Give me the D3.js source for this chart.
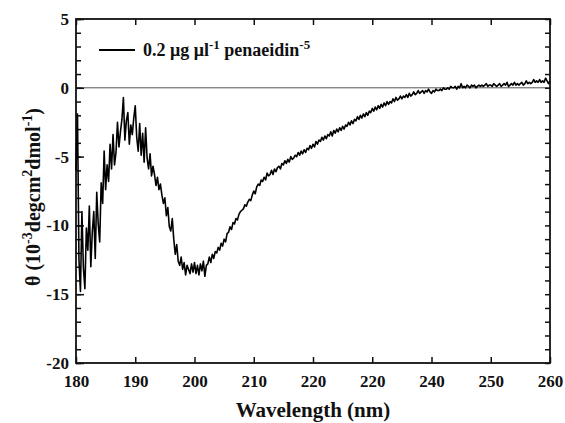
<!DOCTYPE html>
<html>
<head>
<meta charset="utf-8">
<script src="https://cdn.jsdelivr.net/npm/d3@7"></script>
<style>
  html, body { margin: 0; padding: 0; background: #fff; }
  svg text { font-family: "Liberation Serif", "Times New Roman", serif; font-weight: bold; fill: #111; }
</style>
</head>
<body>
<div id="chart"></div>
<script>
// CD spectrum, sampled every 0.25 nm from 180 nm to 260 nm
const wlStart = 180, wlEnd = 260, wlStep = 0.25;
const theta = [
  // 180 - 184.75
  -6.0, -1.9, -12.5, -14.8, -9.0, -13.1, -14.6, -10.2, -11.8, -8.6, -13.0, -10.5, -9.0, -12.4, -7.6, -9.9, -11.2, -6.9, -8.4, -4.6,
  // 185 - 189.75
  -7.4, -5.6, -6.8, -4.1, -5.9, -3.4, -5.6, -4.7, -2.5, -4.3, -3.2, -2.3, -0.7, -3.8, -2.4, -1.8, -4.1, -2.7, -3.4, -2.2,
  // 190 - 194.75
  -1.3, -3.6, -4.6, -2.6, -4.9, -3.3, -5.4, -2.9, -5.1, -5.9, -4.8, -6.4, -5.7, -6.3, -7.1, -6.5, -7.4, -7.0, -7.8, -8.4,
  // 195 - 199.75
  -8.0, -9.3, -8.7, -10.1, -10.4, -9.5, -11.0, -12.1, -11.4, -12.6, -12.9, -12.3, -13.2, -12.7, -13.6, -12.9, -13.2, -13.5, -12.8, -13.4,
  // 200 - 204.75
  -12.7, -13.5, -12.9, -13.6, -12.8, -13.3, -12.6, -13.7, -12.9, -12.8, -12.3, -12.7, -12.1, -12.4, -11.9, -12.0, -11.6, -11.8, -11.3, -11.5,
  // 205 - 209.75
  -11.0, -11.2, -10.6, -10.5, -10.1, -10.3, -9.8, -9.9, -9.5, -9.6, -9.2, -9.0, -8.9, -8.8, -8.5, -8.6, -8.3, -8.1, -8.2, -7.8,
  // 210 - 214.75
  -7.5, -7.7, -7.2, -7.0, -7.1, -6.7, -6.8, -6.5, -6.7, -6.2, -6.4, -6.3, -6.0, -6.3, -5.9, -6.1, -5.8, -5.7, -5.9, -5.5,
  // 215 - 219.75
  -5.6, -5.3, -5.5, -5.2, -5.4, -5.0, -5.2, -5.1, -4.9, -5.0, -4.7, -4.9, -4.6, -4.8, -4.5, -4.7, -4.4, -4.5, -4.2, -4.4,
  // 220 - 224.75
  -4.1, -4.3, -3.9, -4.1, -3.8, -3.9, -3.6, -3.8, -3.5, -3.7, -3.4, -3.5, -3.2, -3.5, -3.1, -3.3, -3.0, -3.2, -2.9, -3.1,
  // 225 - 229.75
  -2.8, -3.0, -2.7, -2.8, -2.5, -2.7, -2.4, -2.6, -2.3, -2.4, -2.1, -2.3, -2.0, -2.2, -1.9, -2.1, -1.8, -2.0, -1.7, -1.8,
  // 230 - 234.75
  -1.5, -1.7, -1.4, -1.6, -1.3, -1.5, -1.2, -1.4, -1.1, -1.3, -1.0, -1.2, -1.0, -1.1, -0.8, -1.0, -0.7, -0.9, -0.8, -0.6,
  // 235 - 239.75
  -0.8, -0.6, -0.7, -0.5, -0.7, -0.4, -0.6, -0.5, -0.3, -0.5, -0.4, -0.2, -0.4, -0.3, -0.2, -0.4, -0.2, -0.3, -0.1, -0.3,
  // 240 - 244.75
  -0.4, -0.2, -0.3, -0.1, -0.2, -0.2, -0.1, -0.2, 0.0, -0.1, -0.1, 0.0, -0.1, 0.1, 0.0, 0.0, 0.1, -0.1, 0.1, 0.0,
  // 245 - 249.75
  0.3, 0.0, 0.1, 0.0, 0.2, 0.1, 0.0, 0.2, 0.1, 0.2, 0.0, 0.1, 0.2, 0.1, 0.2, 0.1, 0.2, 0.3, 0.1, 0.2,
  // 250 - 254.75
  0.2, 0.1, 0.3, 0.2, 0.1, 0.2, 0.3, 0.1, 0.2, 0.3, 0.2, 0.4, 0.1, 0.2, 0.3, 0.2, 0.4, 0.2, 0.3, 0.2,
  // 255 - 260
  0.3, 0.4, 0.2, 0.3, 0.5, 0.3, 0.4, 0.3, 0.4, 0.6, 0.4, 0.5, 0.4, 0.6, 0.4, 0.5, 0.4, 0.7, 0.5, 0.3, 0.5
];

const xTicks = [180, 190, 200, 210, 220, 230, 240, 250, 260];
const xTickLabels = ["180", "190", "200", "210", "220", "220", "240", "250", "260"];
const yMajorTicks = [-20, -15, -10, -5, 0, 5];
const yMinorTicks = d3.range(-20, 6, 1);
const legendLabel = "0.2 \u03bcg \u03bcl";

// Layout
const width = 565, height = 423;
const margin = { top: 19, right: 15, bottom: 60, left: 76 };
const innerW = width - margin.left - margin.right;
const innerH = height - margin.top - margin.bottom;
const serif = "'Liberation Serif', 'Times New Roman', serif";

const svg = d3.select("#chart")
  .append("svg")
  .attr("width", width)
  .attr("height", height);

const g = svg.append("g")
  .attr("transform", `translate(${margin.left},${margin.top})`);

const x = d3.scaleLinear().domain([180, 260]).range([0, innerW]);
const y = d3.scaleLinear().domain([-20, 5]).range([innerH, 0]);

const wavelengths = d3.range(wlStart, wlEnd + wlStep / 2, wlStep);
const points = wavelengths.map((w, i) => ({ w, v: theta[i] }));

// zero reference line
g.append("line")
  .attr("x1", 0).attr("x2", innerW)
  .attr("y1", y(0)).attr("y2", y(0))
  .attr("stroke", "#555")
  .attr("stroke-width", 1);

// ---- Axes (ticks pointing inward) ----
function styleAxis(sel) {
  sel.select(".domain").remove();
  sel.selectAll(".tick line").attr("stroke", "#111").attr("stroke-width", 1.5);
  sel.selectAll("text")
    .style("font-size", "17px")
    .style("font-family", serif)
    .style("font-weight", "bold");
}

// bottom
g.append("g")
  .attr("transform", `translate(0,${innerH})`)
  .call(d3.axisBottom(x).tickValues(xTicks).tickSize(-6).tickPadding(12)
    .tickFormat((d, i) => xTickLabels[i]))
  .call(styleAxis);

// top
g.append("g")
  .call(d3.axisTop(x).tickValues(xTicks).tickSize(-6).tickFormat(""))
  .call(styleAxis);

// left minor
g.append("g")
  .call(d3.axisLeft(y).tickValues(yMinorTicks).tickSize(-5).tickFormat(""))
  .call(styleAxis);

// left major with labels (plain hyphen for negatives)
g.append("g")
  .call(d3.axisLeft(y).tickValues(yMajorTicks).tickSize(-8).tickPadding(7)
    .tickFormat(d => String(d)))
  .call(styleAxis);

// right minor
g.append("g")
  .attr("transform", `translate(${innerW},0)`)
  .call(d3.axisRight(y).tickValues(yMinorTicks).tickSize(-5).tickFormat(""))
  .call(styleAxis);

// frame
g.append("rect")
  .attr("width", innerW).attr("height", innerH)
  .attr("fill", "none")
  .attr("stroke", "#111")
  .attr("stroke-width", 1.8);

// ---- Spectrum ----
const line = d3.line()
  .x(d => x(d.w))
  .y(d => y(d.v));

g.append("path")
  .datum(points)
  .attr("fill", "none")
  .attr("stroke", "#000")
  .attr("stroke-width", 1.6)
  .attr("stroke-linejoin", "round")
  .attr("d", line);

// ---- Legend ----
g.append("line")
  .attr("x1", 23).attr("x2", 59)
  .attr("y1", 31).attr("y2", 31)
  .attr("stroke", "#000")
  .attr("stroke-width", 1.8);

const lt = g.append("text")
  .attr("x", 67).attr("y", 37)
  .style("font-size", "18px");
lt.append("tspan").text(legendLabel);
lt.append("tspan").attr("dy", -7).style("font-size", "13px").text("-1");
lt.append("tspan").attr("dy", 7).text(" penaeidin");
lt.append("tspan").attr("dy", -7).style("font-size", "13px").text("-5");

// ---- Axis titles ----
svg.append("text")
  .attr("x", margin.left + innerW / 2)
  .attr("y", 417)
  .attr("text-anchor", "middle")
  .style("font-size", "21px")
  .text("Wavelength (nm)");

const yt = svg.append("text")
  .attr("transform", `translate(40,${margin.top + innerH / 2 + 6}) rotate(-90)`)
  .attr("text-anchor", "middle")
  .style("font-size", "20px");
yt.append("tspan").text("\u03b8 (10");
yt.append("tspan").attr("dy", -8).style("font-size", "14px").text("-3");
yt.append("tspan").attr("dy", 8).text("degcm");
yt.append("tspan").attr("dy", -8).style("font-size", "14px").text("2");
yt.append("tspan").attr("dy", 8).text("dmol");
yt.append("tspan").attr("dy", -8).style("font-size", "14px").text("-1");
yt.append("tspan").attr("dy", 8).text(")");
</script>
</body>
</html>
